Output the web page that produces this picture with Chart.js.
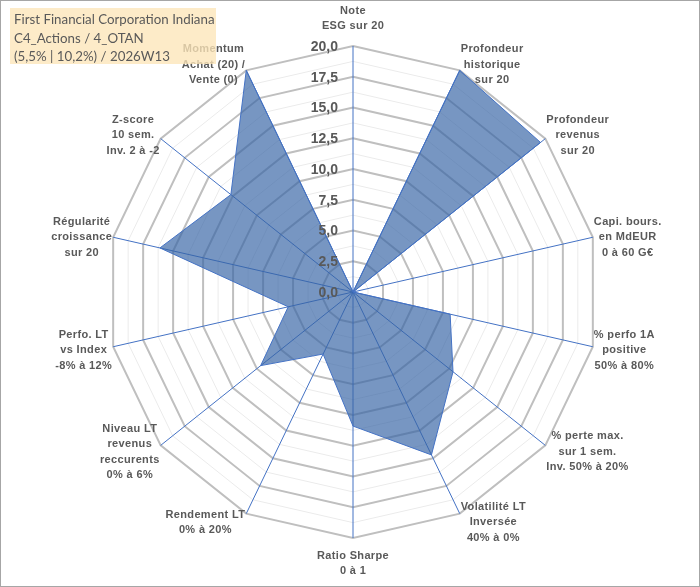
<!DOCTYPE html>
<html>
<head>
<meta charset="utf-8">
<script src="https://cdn.jsdelivr.net/npm/chart.js@4.4.1/dist/chart.umd.min.js"></script>
<style>
  html, body { margin: 0; padding: 0; background: #fff; }
  #wrap { position: relative; width: 698px; height: 585px; border: 1px solid #a6a6a6; }
  #title {
    position: absolute; left: 9px; top: 7px; width: 206px; height: 56px;
    background: rgba(253, 230, 185, 0.78);
    font-family: Lato, "Open Sans", sans-serif; font-size: 13.3px; line-height: 18.5px;
    color: #595959; padding: 2px 0 0 4px; box-sizing: border-box; white-space: nowrap;
  }
</style>
</head>
<body>
<div id="wrap">
  <canvas id="radar"></canvas>
  <div id="title">First Financial Corporation Indiana<br>C4_Actions / 4_OTAN<br>(5,5% | 10,2%) / 2026W13</div>
</div>
<script>
var labels = [
    ["Note", "ESG sur 20"],
    ["Profondeur", "historique", "sur 20"],
    ["Profondeur", "revenus", "sur 20"],
    ["Capi. bours.", "en MdEUR", "0 à 60 G€"],
    ["% perfo 1A", "positive", "50% à 80%"],
    ["% perte max.", "sur 1 sem.", "Inv. 50% à 20%"],
    ["Volatilité LT", "Inversée", "40% à 0%"],
    ["Ratio Sharpe", "0 à 1"],
    ["Rendement LT", "0% à 20%"],
    ["Niveau LT", "revenus", "reccurents", "0% à 6%"],
    ["Perfo. LT", "vs Index", "-8% à 12%"],
    ["Régularité", "croissance", "sur 20"],
    ["Z-score", "10 sem.", "Inv. 2 à -2"],
    ["Momentum", "Achat (20) /", "Vente (0)"]
];
var scores = [0, 20, 19.5, 0, 8.1, 10.4, 14.7, 10.9, 5.6, 9.6, 5.4, 16.1, 12.7, 20];
var tickValues = [0, 2.5, 5, 7.5, 10, 12.5, 15, 17.5, 20];

// tick labels left of the vertical axis + centred multi-line axis labels (Excel style)
var excelLabels = {
    id: 'excelLabels',
    afterDatasetsDraw: function(chart) {
        var scale = chart.scales.r;
        var ctx = chart.ctx;
        ctx.save();
        ctx.fillStyle = '#595959';
        ctx.textBaseline = 'middle';

        ctx.font = 'bold 14px "Liberation Sans", Arial, sans-serif';
        ctx.textAlign = 'right';
        tickValues.forEach(function(v) {
            var p = scale.getPointPositionForValue(0, v);
            ctx.fillText(v.toFixed(1).replace('.', ','), p.x - 15, p.y + 1);
        });

        ctx.font = 'bold 11px "Liberation Sans", Arial, sans-serif';
        ctx.letterSpacing = '0.35px';
        ctx.textAlign = 'center';
        var lh = 15.5;
        var n = labels.length;
        labels.forEach(function(lines, i) {
            var ang = i * 2 * Math.PI / n;
            var p = scale.getPointPosition(i, scale.drawingArea);
            var w = Math.max.apply(null, lines.map(function(s) { return ctx.measureText(s).width; }));
            var h = lines.length * lh;
            var cx, cy;
            var s = Math.sin(ang), c = Math.cos(ang);
            if (Math.abs(s) < 0.01) {
                cx = p.x;
                cy = c > 0 ? p.y - 12 - h / 2 : p.y + 10 + h / 2;
            } else {
                cx = s > 0 ? p.x + w / 2 + 1 : p.x - w / 2 - 1;
                cy = p.y - 8 * c + 1.5;
            }
            lines.forEach(function(t, k) {
                ctx.fillText(t, cx, cy - h / 2 + lh * (k + 0.5));
            });
        });
        ctx.restore();
    }
};

var ctx = document.getElementById('radar').getContext('2d');
var myChart = new Chart(ctx, {
    type: 'radar',
    data: {
        labels: labels,
        datasets: [{
            label: 'Score',
            data: scores,
            backgroundColor: 'rgba(55, 100, 165, 0.68)',
            borderColor: '#4472c4',
            borderWidth: 1,
            pointRadius: 0,
            fill: true
        }]
    },
    options: {
        responsive: true,
        maintainAspectRatio: false,
        animation: false,
        layout: { padding: { top: 45, bottom: 48, left: 6, right: 0 } },
        plugins: {
            legend: { display: false },
            tooltip: { enabled: false }
        },
        scales: {
            r: {
                min: 0,
                max: 20,
                ticks: { stepSize: 1.25, display: false },
                grid: {
                    color: function(c) {
                        return c.tick && c.tick.value % 2.5 === 0 ? '#bfbfbf' : '#ebebeb';
                    },
                    lineWidth: function(c) {
                        return c.tick && c.tick.value % 2.5 === 0 ? 2 : 1;
                    }
                },
                angleLines: { color: '#4472c4', lineWidth: 1 },
                pointLabels: { display: false }
            }
        }
    },
    plugins: [excelLabels]
});
</script>
</body>
</html>
